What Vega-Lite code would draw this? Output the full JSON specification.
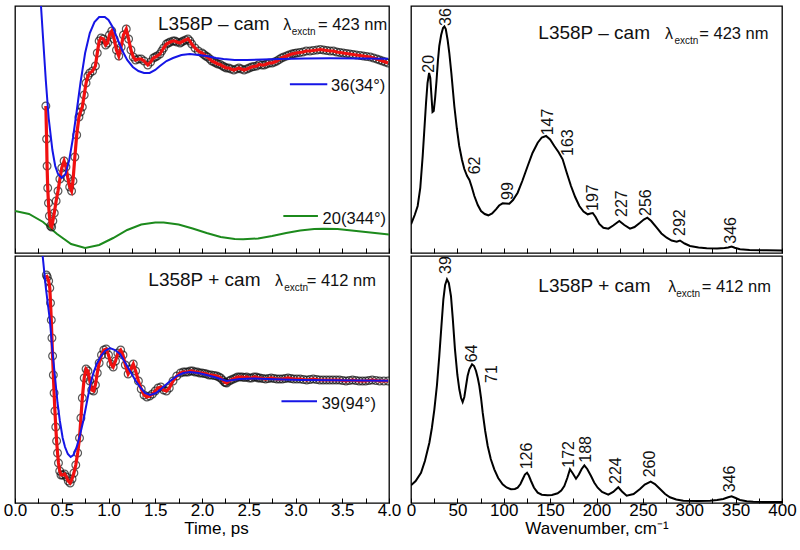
{
"$schema":"https://vega.github.io/schema/vega-lite/v6.json",
"padding":{"left":2,"top":5,"right":5,"bottom":5},
"background":"white",
"config":{"view":{"stroke":"#000","strokeWidth":1.3},"font":"Liberation Sans",
"axis":{"domain":false,"grid":false,"tickColor":"#000","tickSize":-5,"tickWidth":1,"labelFont":"Liberation Sans","labelFontSize":17,"labelColor":"#000","labelFlush":false,"labelOverlap":false,"titleFont":"Liberation Sans","titleFontSize":17,"titleFontWeight":"normal","titleColor":"#000"}},
"resolve":{"scale":{"x":"independent","y":"independent"}},
"spacing":0,
"vconcat":[
{"hconcat":[
{"width":374,"height":247,
"encoding":{"x":{"field":"t","type":"quantitative","scale":{"domain":[0,4],"nice":false,"zero":false},"axis":{"values":[0,0.25,0.5,0.75,1,1.25,1.5,1.75,2,2.25,2.5,2.75,3,3.25,3.5,3.75,4],"labels":false,"title":null}},
"y":{"field":"y","type":"quantitative","scale":{"domain":[0,247],"nice":false,"zero":false},"axis":null}},
"layer":[
{"data":{"name":"ul_green"},"mark":{"type":"line","color":"#1c8a1c","strokeWidth":2,"clip":true}},
{"data":{"name":"ul_sig"},"mark":{"type":"point","shape":"circle","filled":false,"color":"#111","strokeWidth":1.2,"size":60,"clip":true}},
{"data":{"name":"ul_sig"},"mark":{"type":"line","color":"#f01010","strokeWidth":3.2,"clip":true}},
{"data":{"name":"ul_blue"},"mark":{"type":"line","color":"#1515e6","strokeWidth":2,"clip":true}},
{"data":{"name":"ul_leg"},"transform":[{"filter":"datum.s=='b'"}],"mark":{"type":"rule","color":"#1515e6","strokeWidth":2},"encoding":{"x2":{"field":"t2"}}},
{"data":{"name":"ul_leg"},"transform":[{"filter":"datum.s=='g'"}],"mark":{"type":"rule","color":"#1c8a1c","strokeWidth":2},"encoding":{"x2":{"field":"t2"}}},
{"data":{"name":"ul_txt"},"transform":[{"filter":"datum.k=='title'"}],"mark":{"type":"text","align":"left","baseline":"alphabetic","fontSize":19,"color":"#111"},"encoding":{"text":{"field":"s"}}},
{"data":{"name":"ul_txt"},"transform":[{"filter":"datum.k=='lam'"}],"mark":{"type":"text","align":"left","baseline":"alphabetic","fontSize":16,"color":"#111"},"encoding":{"text":{"field":"s"}}},
{"data":{"name":"ul_txt"},"transform":[{"filter":"datum.k=='sub'"}],"mark":{"type":"text","align":"left","baseline":"alphabetic","fontSize":10,"color":"#111"},"encoding":{"text":{"field":"s"}}},
{"data":{"name":"ul_txt"},"transform":[{"filter":"datum.k=='eq' || datum.k=='leg'"}],"mark":{"type":"text","align":"left","baseline":"alphabetic","fontSize":16.5,"color":"#111"},"encoding":{"text":{"field":"s"}}}
]},
{"width":371,"height":247,
"encoding":{"x":{"field":"w","type":"quantitative","scale":{"domain":[0,400],"nice":false,"zero":false},"axis":{"values":[0,25,50,75,100,125,150,175,200,225,250,275,300,325,350,375,400],"labels":false,"title":null}},
"y":{"field":"y","type":"quantitative","scale":{"domain":[0,247],"nice":false,"zero":false},"axis":null}},
"layer":[
{"data":{"name":"ur_spec"},"mark":{"type":"line","color":"#000","strokeWidth":2,"clip":true}},
{"data":{"name":"ur_pk"},"mark":{"type":"text","angle":270,"align":"left","baseline":"middle","fontSize":16,"color":"#111"},"encoding":{"text":{"field":"s"}}},
{"data":{"name":"ur_txt"},"transform":[{"filter":"datum.k=='title'"}],"mark":{"type":"text","align":"left","baseline":"alphabetic","fontSize":19,"color":"#111"},"encoding":{"text":{"field":"s"}}},
{"data":{"name":"ur_txt"},"transform":[{"filter":"datum.k=='lam'"}],"mark":{"type":"text","align":"left","baseline":"alphabetic","fontSize":16,"color":"#111"},"encoding":{"text":{"field":"s"}}},
{"data":{"name":"ur_txt"},"transform":[{"filter":"datum.k=='sub'"}],"mark":{"type":"text","align":"left","baseline":"alphabetic","fontSize":10,"color":"#111"},"encoding":{"text":{"field":"s"}}},
{"data":{"name":"ur_txt"},"transform":[{"filter":"datum.k=='eq'"}],"mark":{"type":"text","align":"left","baseline":"alphabetic","fontSize":16.5,"color":"#111"},"encoding":{"text":{"field":"s"}}}
]}
],"spacing":22,"bounds":"flush","resolve":{"scale":{"x":"independent","y":"independent"}}},
{"hconcat":[
{"width":374,"height":247,
"encoding":{"x":{"field":"t","type":"quantitative","scale":{"domain":[0,4],"nice":false,"zero":false},"axis":{"values":[0,0.25,0.5,0.75,1,1.25,1.5,1.75,2,2.25,2.5,2.75,3,3.25,3.5,3.75,4],"labelExpr":"round(datum.value*4) % 2 == 0 ? format(datum.value,'.1f') : ''","labelPadding":4,"title":"Time, ps","titleX":201,"titlePadding":2}},
"y":{"field":"y","type":"quantitative","scale":{"domain":[0,247],"nice":false,"zero":false},"axis":null}},
"layer":[
{"data":{"name":"ll_sig"},"mark":{"type":"point","shape":"circle","filled":false,"color":"#111","strokeWidth":1.2,"size":60,"clip":true}},
{"data":{"name":"ll_sig"},"mark":{"type":"line","color":"#f01010","strokeWidth":3.2,"clip":true}},
{"data":{"name":"ll_blue"},"mark":{"type":"line","color":"#1515e6","strokeWidth":2,"clip":true}},
{"data":{"name":"ll_leg"},"mark":{"type":"rule","color":"#1515e6","strokeWidth":2},"encoding":{"x2":{"field":"t2"}}},
{"data":{"name":"ll_txt"},"transform":[{"filter":"datum.k=='title'"}],"mark":{"type":"text","align":"left","baseline":"alphabetic","fontSize":19,"color":"#111"},"encoding":{"text":{"field":"s"}}},
{"data":{"name":"ll_txt"},"transform":[{"filter":"datum.k=='lam'"}],"mark":{"type":"text","align":"left","baseline":"alphabetic","fontSize":16,"color":"#111"},"encoding":{"text":{"field":"s"}}},
{"data":{"name":"ll_txt"},"transform":[{"filter":"datum.k=='sub'"}],"mark":{"type":"text","align":"left","baseline":"alphabetic","fontSize":10,"color":"#111"},"encoding":{"text":{"field":"s"}}},
{"data":{"name":"ll_txt"},"transform":[{"filter":"datum.k=='eq' || datum.k=='leg'"}],"mark":{"type":"text","align":"left","baseline":"alphabetic","fontSize":16.5,"color":"#111"},"encoding":{"text":{"field":"s"}}}
]},
{"width":371,"height":247,
"encoding":{"x":{"field":"w","type":"quantitative","scale":{"domain":[0,400],"nice":false,"zero":false},"axis":{"values":[0,25,50,75,100,125,150,175,200,225,250,275,300,325,350,375,400],"labelExpr":"datum.value % 50 == 0 ? format(datum.value,'d') : ''","labelPadding":4,"title":"Wavenumber, cm⁻¹","titlePadding":2}},
"y":{"field":"y","type":"quantitative","scale":{"domain":[0,247],"nice":false,"zero":false},"axis":null}},
"layer":[
{"data":{"name":"lr_spec"},"mark":{"type":"line","color":"#000","strokeWidth":2,"clip":true}},
{"data":{"name":"lr_pk"},"mark":{"type":"text","angle":270,"align":"left","baseline":"middle","fontSize":16,"color":"#111"},"encoding":{"text":{"field":"s"}}},
{"data":{"name":"lr_txt"},"transform":[{"filter":"datum.k=='title'"}],"mark":{"type":"text","align":"left","baseline":"alphabetic","fontSize":19,"color":"#111"},"encoding":{"text":{"field":"s"}}},
{"data":{"name":"lr_txt"},"transform":[{"filter":"datum.k=='lam'"}],"mark":{"type":"text","align":"left","baseline":"alphabetic","fontSize":16,"color":"#111"},"encoding":{"text":{"field":"s"}}},
{"data":{"name":"lr_txt"},"transform":[{"filter":"datum.k=='sub'"}],"mark":{"type":"text","align":"left","baseline":"alphabetic","fontSize":10,"color":"#111"},"encoding":{"text":{"field":"s"}}},
{"data":{"name":"lr_txt"},"transform":[{"filter":"datum.k=='eq'"}],"mark":{"type":"text","align":"left","baseline":"alphabetic","fontSize":16.5,"color":"#111"},"encoding":{"text":{"field":"s"}}}
]}
],"spacing":22,"bounds":"flush","resolve":{"scale":{"x":"independent","y":"independent"}}}
],
"datasets":{
"ul_sig":[{"t":0.33,"y":147},{"t":0.338,"y":114},{"t":0.343,"y":87},{"t":0.35,"y":65},{"t":0.358,"y":50},{"t":0.368,"y":37},{"t":0.38,"y":27},{"t":0.392,"y":26},{"t":0.405,"y":32},{"t":0.42,"y":40},{"t":0.44,"y":52},{"t":0.46,"y":62},{"t":0.48,"y":74},{"t":0.5,"y":85},{"t":0.525,"y":92},{"t":0.545,"y":86},{"t":0.565,"y":75},{"t":0.585,"y":66},{"t":0.605,"y":62},{"t":0.62,"y":72},{"t":0.64,"y":96},{"t":0.66,"y":118},{"t":0.684,"y":136},{"t":0.7,"y":141},{"t":0.72,"y":146},{"t":0.74,"y":158},{"t":0.76,"y":170},{"t":0.78,"y":177},{"t":0.8,"y":180},{"t":0.83,"y":182},{"t":0.86,"y":187},{"t":0.88,"y":200},{"t":0.9,"y":212},{"t":0.92,"y":215},{"t":0.945,"y":214},{"t":0.97,"y":208},{"t":0.99,"y":210},{"t":1.01,"y":218},{"t":1.035,"y":222},{"t":1.06,"y":214},{"t":1.085,"y":203},{"t":1.11,"y":197},{"t":1.135,"y":206},{"t":1.16,"y":218},{"t":1.19,"y":224},{"t":1.215,"y":214},{"t":1.24,"y":203},{"t":1.265,"y":196},{"t":1.29,"y":193},{"t":1.32,"y":194},{"t":1.35,"y":194},{"t":1.38,"y":192},{"t":1.42,"y":188},{"t":1.45,"y":191},{"t":1.48,"y":195},{"t":1.52,"y":197},{"t":1.55,"y":199},{"t":1.59,"y":205},{"t":1.62,"y":209},{"t":1.66,"y":211},{"t":1.69,"y":212},{"t":1.73,"y":211},{"t":1.765,"y":210},{"t":1.8,"y":212},{"t":1.85,"y":214},{"t":1.89,"y":209},{"t":1.925,"y":205},{"t":1.96,"y":202},{"t":2.0,"y":200},{"t":2.04,"y":197},{"t":2.085,"y":194},{"t":2.13,"y":191},{"t":2.17,"y":189},{"t":2.22,"y":187},{"t":2.26,"y":185},{"t":2.31,"y":184},{"t":2.37,"y":184},{"t":2.42,"y":184},{"t":2.48,"y":184},{"t":2.53,"y":186},{"t":2.585,"y":187},{"t":2.64,"y":188},{"t":2.69,"y":189},{"t":2.75,"y":190},{"t":2.8,"y":192},{"t":2.85,"y":195},{"t":2.905,"y":197},{"t":2.96,"y":199},{"t":3.01,"y":200},{"t":3.08,"y":201},{"t":3.155,"y":202},{"t":3.23,"y":203},{"t":3.3,"y":203},{"t":3.37,"y":202},{"t":3.44,"y":201},{"t":3.51,"y":200},{"t":3.58,"y":199},{"t":3.65,"y":198},{"t":3.725,"y":197},{"t":3.8,"y":196},{"t":3.87,"y":194},{"t":3.93,"y":192},{"t":3.99,"y":190},{"t":2.02,"y":198.5},{"t":2.06,"y":196},{"t":2.105,"y":192},{"t":2.15,"y":190},{"t":2.195,"y":188.5},{"t":2.24,"y":186},{"t":2.285,"y":185},{"t":2.34,"y":183},{"t":2.395,"y":185},{"t":2.45,"y":183},{"t":2.505,"y":185},{"t":2.555,"y":186.5},{"t":2.61,"y":188.5},{"t":2.665,"y":188},{"t":2.72,"y":190},{"t":2.775,"y":191},{"t":2.825,"y":193.5},{"t":2.875,"y":196},{"t":2.93,"y":198},{"t":2.985,"y":199.5},{"t":3.045,"y":200.5},{"t":3.115,"y":202},{"t":3.19,"y":202.5},{"t":3.265,"y":203.5},{"t":3.335,"y":202.5},{"t":3.405,"y":202},{"t":3.475,"y":200.5},{"t":3.545,"y":199.5},{"t":3.615,"y":198.5},{"t":3.69,"y":197.5},{"t":3.76,"y":196.5},{"t":3.835,"y":195},{"t":3.9,"y":193},{"t":3.96,"y":191},{"t":1.5,"y":196},{"t":1.57,"y":202},{"t":1.64,"y":210},{"t":1.71,"y":212},{"t":1.78,"y":211},{"t":1.825,"y":213},{"t":1.87,"y":212}],
"ul_blue":[{"t":0.25,"y":300},{"t":0.278,"y":247},{"t":0.3,"y":215},{"t":0.33,"y":172},{"t":0.36,"y":135},{"t":0.4,"y":103},{"t":0.43,"y":87},{"t":0.46,"y":79},{"t":0.5,"y":75},{"t":0.54,"y":79},{"t":0.58,"y":93},{"t":0.62,"y":115},{"t":0.66,"y":142},{"t":0.7,"y":170},{"t":0.75,"y":200},{"t":0.8,"y":220},{"t":0.85,"y":231},{"t":0.9,"y":236},{"t":0.96,"y":236},{"t":1.0,"y":233},{"t":1.05,"y":225},{"t":1.1,"y":213},{"t":1.15,"y":202},{"t":1.2,"y":193},{"t":1.26,"y":186},{"t":1.32,"y":182},{"t":1.38,"y":180},{"t":1.44,"y":180},{"t":1.5,"y":183},{"t":1.55,"y":187},{"t":1.62,"y":192},{"t":1.69,"y":195},{"t":1.78,"y":198},{"t":1.87,"y":199},{"t":1.96,"y":198},{"t":2.05,"y":197},{"t":2.15,"y":195},{"t":2.23,"y":194},{"t":2.35,"y":193},{"t":2.48,"y":193},{"t":2.65,"y":193.5},{"t":2.83,"y":194},{"t":3.1,"y":194.5},{"t":3.37,"y":194.7},{"t":3.7,"y":194.5},{"t":3.99,"y":194.3}],
"ul_green":[{"t":0,"y":42},{"t":0.15,"y":39},{"t":0.3,"y":31},{"t":0.45,"y":19},{"t":0.6,"y":9},{"t":0.75,"y":5},{"t":0.9,"y":8},{"t":1.05,"y":15},{"t":1.2,"y":23},{"t":1.35,"y":28.5},{"t":1.5,"y":30.5},{"t":1.59,"y":30.5},{"t":1.75,"y":28.5},{"t":1.9,"y":24.5},{"t":2.05,"y":20},{"t":2.2,"y":16},{"t":2.35,"y":14},{"t":2.44,"y":13.7},{"t":2.6,"y":14.5},{"t":2.75,"y":17},{"t":2.9,"y":20},{"t":3.05,"y":22.5},{"t":3.2,"y":24},{"t":3.3,"y":24.3},{"t":3.45,"y":24},{"t":3.6,"y":22.5},{"t":3.75,"y":21},{"t":3.9,"y":19.5},{"t":4.0,"y":18.5}],
"ul_leg":[{"t":2.94,"t2":3.34,"y":168.7,"s":"b"},{"t":2.87,"t2":3.24,"y":37,"s":"g"}],
"ul_txt":[{"t":1.53,"y":222.7,"k":"title","s":"L358P – cam"},{"t":2.87,"y":222.7,"k":"lam","s":"λ"},{"t":2.96,"y":218.5,"k":"sub","s":"exctn"},{"t":3.24,"y":222.7,"k":"eq","s":"= 423 nm"},{"t":3.38,"y":162,"k":"leg","s":"36(34°)"},{"t":3.29,"y":28.7,"k":"leg","s":"20(344°)"}],
"ll_sig":[{"t":0.335,"y":228},{"t":0.345,"y":226},{"t":0.36,"y":222},{"t":0.372,"y":215},{"t":0.38,"y":200},{"t":0.388,"y":183},{"t":0.395,"y":165},{"t":0.402,"y":147},{"t":0.41,"y":128},{"t":0.418,"y":110},{"t":0.427,"y":92},{"t":0.436,"y":76},{"t":0.445,"y":62},{"t":0.455,"y":50},{"t":0.465,"y":40},{"t":0.478,"y":32},{"t":0.492,"y":28},{"t":0.51,"y":28},{"t":0.53,"y":29},{"t":0.55,"y":26},{"t":0.57,"y":22},{"t":0.59,"y":20},{"t":0.61,"y":24},{"t":0.63,"y":30},{"t":0.65,"y":38},{"t":0.67,"y":50},{"t":0.69,"y":65},{"t":0.705,"y":85},{"t":0.72,"y":105},{"t":0.74,"y":125},{"t":0.76,"y":134},{"t":0.78,"y":132},{"t":0.8,"y":122},{"t":0.82,"y":113},{"t":0.84,"y":112},{"t":0.86,"y":118},{"t":0.88,"y":130},{"t":0.9,"y":140},{"t":0.925,"y":148},{"t":0.95,"y":153},{"t":0.975,"y":154},{"t":1.0,"y":148},{"t":1.025,"y":139},{"t":1.05,"y":136},{"t":1.075,"y":142},{"t":1.1,"y":150},{"t":1.13,"y":153},{"t":1.155,"y":148},{"t":1.18,"y":138},{"t":1.21,"y":129},{"t":1.24,"y":134},{"t":1.265,"y":139},{"t":1.29,"y":132},{"t":1.32,"y":122},{"t":1.35,"y":114},{"t":1.38,"y":108},{"t":1.41,"y":106},{"t":1.44,"y":107},{"t":1.47,"y":109},{"t":1.5,"y":112},{"t":1.53,"y":115},{"t":1.56,"y":116},{"t":1.59,"y":113},{"t":1.62,"y":112},{"t":1.65,"y":115},{"t":1.69,"y":122},{"t":1.73,"y":127},{"t":1.77,"y":130},{"t":1.8,"y":131},{"t":1.85,"y":131},{"t":1.9,"y":132},{"t":1.95,"y":131},{"t":2.0,"y":130},{"t":2.05,"y":129},{"t":2.1,"y":128},{"t":2.157,"y":127},{"t":2.2,"y":125},{"t":2.24,"y":121},{"t":2.264,"y":120},{"t":2.29,"y":122},{"t":2.335,"y":124},{"t":2.38,"y":126},{"t":2.43,"y":126},{"t":2.478,"y":126},{"t":2.53,"y":125},{"t":2.58,"y":126},{"t":2.62,"y":125},{"t":2.68,"y":124},{"t":2.74,"y":125},{"t":2.8,"y":124},{"t":2.86,"y":124},{"t":2.92,"y":125},{"t":2.98,"y":124},{"t":3.05,"y":124},{"t":3.12,"y":123},{"t":3.19,"y":124},{"t":3.26,"y":123},{"t":3.33,"y":123},{"t":3.4,"y":123},{"t":3.47,"y":123},{"t":3.54,"y":122},{"t":3.61,"y":123},{"t":3.68,"y":122},{"t":3.75,"y":122},{"t":3.82,"y":123},{"t":3.9,"y":122},{"t":3.99,"y":122},{"t":1.825,"y":131},{"t":1.875,"y":132},{"t":1.925,"y":131},{"t":1.975,"y":130},{"t":2.025,"y":129.5},{"t":2.075,"y":128},{"t":2.13,"y":127.5},{"t":2.18,"y":126},{"t":2.22,"y":123},{"t":2.25,"y":120.5},{"t":2.31,"y":123},{"t":2.36,"y":125},{"t":2.405,"y":126},{"t":2.455,"y":125.5},{"t":2.505,"y":125},{"t":2.555,"y":126},{"t":2.6,"y":125},{"t":2.65,"y":124.5},{"t":2.71,"y":124.5},{"t":2.77,"y":124.5},{"t":2.83,"y":124},{"t":2.89,"y":124.5},{"t":2.95,"y":124.5},{"t":3.015,"y":124},{"t":3.085,"y":123.5},{"t":3.155,"y":123.5},{"t":3.225,"y":123.5},{"t":3.295,"y":123},{"t":3.365,"y":123},{"t":3.435,"y":123},{"t":3.505,"y":122.5},{"t":3.575,"y":122.5},{"t":3.645,"y":122.5},{"t":3.715,"y":122},{"t":3.785,"y":122.5},{"t":3.86,"y":122.5},{"t":3.945,"y":122}],
"ll_blue":[{"t":0.27,"y":300},{"t":0.296,"y":247},{"t":0.33,"y":215},{"t":0.374,"y":182},{"t":0.4,"y":152},{"t":0.428,"y":126},{"t":0.455,"y":100},{"t":0.48,"y":82},{"t":0.51,"y":65},{"t":0.535,"y":56},{"t":0.565,"y":49},{"t":0.595,"y":46},{"t":0.625,"y":48},{"t":0.66,"y":56},{"t":0.695,"y":68},{"t":0.73,"y":82},{"t":0.765,"y":99},{"t":0.8,"y":116},{"t":0.835,"y":129},{"t":0.874,"y":139},{"t":0.92,"y":147},{"t":0.963,"y":152},{"t":1.016,"y":155},{"t":1.07,"y":153},{"t":1.123,"y":149},{"t":1.175,"y":141},{"t":1.23,"y":132},{"t":1.285,"y":123},{"t":1.337,"y":116},{"t":1.39,"y":110},{"t":1.444,"y":108},{"t":1.51,"y":110},{"t":1.586,"y":116},{"t":1.66,"y":122},{"t":1.73,"y":127},{"t":1.8,"y":130},{"t":1.87,"y":131},{"t":1.96,"y":130},{"t":2.05,"y":128},{"t":2.15,"y":125.5},{"t":2.264,"y":122},{"t":2.33,"y":123},{"t":2.406,"y":124},{"t":2.55,"y":124.5},{"t":2.69,"y":124},{"t":2.87,"y":123.5},{"t":3.05,"y":123},{"t":3.4,"y":122.7},{"t":3.99,"y":122.3}],
"ll_leg":[{"t":2.85,"t2":3.23,"y":101.7}],
"ll_txt":[{"t":1.426,"y":217.3,"k":"title","s":"L358P + cam"},{"t":2.78,"y":217.3,"k":"lam","s":"λ"},{"t":2.88,"y":212.5,"k":"sub","s":"exctn"},{"t":3.12,"y":217.3,"k":"eq","s":"= 412 nm"},{"t":3.28,"y":94,"k":"leg","s":"39(94°)"}],
"ur_spec":[{"w":0,"y":28.7},{"w":4,"y":38},{"w":7.2,"y":47},{"w":10,"y":65},{"w":12.6,"y":97},{"w":14.5,"y":125},{"w":16.2,"y":150},{"w":17.8,"y":170},{"w":19.5,"y":180},{"w":20.8,"y":175},{"w":22,"y":158},{"w":23.2,"y":141},{"w":24.5,"y":142},{"w":26,"y":155},{"w":27.5,"y":172},{"w":29,"y":192},{"w":30.5,"y":207},{"w":32.5,"y":218},{"w":34.5,"y":225},{"w":36,"y":226.5},{"w":37.5,"y":224},{"w":39.5,"y":213},{"w":41.3,"y":200},{"w":43.5,"y":180},{"w":46.7,"y":147},{"w":49.5,"y":124},{"w":52,"y":107},{"w":55,"y":93},{"w":57.5,"y":84},{"w":60.5,"y":77},{"w":63,"y":73},{"w":65.5,"y":66},{"w":68.3,"y":57},{"w":72,"y":48},{"w":75.5,"y":42},{"w":79.5,"y":39},{"w":83.4,"y":37.7},{"w":87.5,"y":39.5},{"w":91.6,"y":43.7},{"w":95,"y":47.5},{"w":98.8,"y":49.7},{"w":102,"y":49.5},{"w":106,"y":49.3},{"w":110,"y":53},{"w":115,"y":60.3},{"w":120,"y":72},{"w":125.8,"y":87},{"w":131,"y":100},{"w":136.6,"y":110.3},{"w":141,"y":115.5},{"w":145.6,"y":117},{"w":150,"y":113.5},{"w":154.5,"y":107},{"w":159,"y":101},{"w":163.5,"y":93.7},{"w":168,"y":80},{"w":172.5,"y":67},{"w":177,"y":56},{"w":181.5,"y":47},{"w":186,"y":41.5},{"w":190.5,"y":38.7},{"w":193.5,"y":39.5},{"w":196,"y":40},{"w":199,"y":36},{"w":203,"y":29},{"w":207.4,"y":25.3},{"w":212.8,"y":24.3},{"w":218,"y":27.5},{"w":224.6,"y":32},{"w":230,"y":28},{"w":236.1,"y":24.3},{"w":241,"y":26},{"w":246.9,"y":30.3},{"w":251,"y":33.5},{"w":254.8,"y":35.3},{"w":259,"y":32},{"w":264.9,"y":25.3},{"w":270,"y":19.5},{"w":275.7,"y":15.3},{"w":281,"y":12.5},{"w":286.5,"y":11.3},{"w":290,"y":12.5},{"w":295,"y":9.5},{"w":300.8,"y":7},{"w":310,"y":5.5},{"w":318.8,"y":4.7},{"w":330,"y":4.5},{"w":338,"y":5},{"w":342,"y":5.5},{"w":345.7,"y":6.5},{"w":349,"y":5.3},{"w":354.7,"y":3.7},{"w":365,"y":3},{"w":383.5,"y":2.7},{"w":400,"y":2.6}],
"ur_pk":[{"w":19.1,"y":180.3,"s":"20"},{"w":37.4,"y":227,"s":"36"},{"w":68.7,"y":78.7,"s":"62"},{"w":105,"y":53,"s":"99"},{"w":148.1,"y":117.7,"s":"147"},{"w":169.7,"y":97,"s":"163"},{"w":196.1,"y":42,"s":"197"},{"w":227.2,"y":36,"s":"227"},{"w":253.7,"y":37,"s":"256"},{"w":290,"y":17,"s":"292"},{"w":345,"y":9.3,"s":"346"}],
"ur_txt":[{"w":137.3,"y":214,"k":"title","s":"L358P – cam"},{"w":273.9,"y":214,"k":"lam","s":"λ"},{"w":284,"y":209.3,"k":"sub","s":"exctn"},{"w":310.8,"y":214,"k":"eq","s":"= 423 nm"}],
"lr_spec":[{"w":0,"y":17.7},{"w":5,"y":22},{"w":10.8,"y":30.3},{"w":15,"y":42},{"w":19.8,"y":60.3},{"w":22.5,"y":75},{"w":25.2,"y":93.7},{"w":28,"y":118},{"w":30.5,"y":147},{"w":32.8,"y":177},{"w":34.9,"y":203.7},{"w":36.8,"y":218},{"w":38.8,"y":223.7},{"w":40.8,"y":220},{"w":43.1,"y":207},{"w":45,"y":185},{"w":47.4,"y":153.7},{"w":50,"y":128},{"w":52.1,"y":113.7},{"w":54,"y":105},{"w":55.7,"y":101},{"w":57.5,"y":106},{"w":59.3,"y":117},{"w":61,"y":127},{"w":62.9,"y":133.7},{"w":65.8,"y":138.7},{"w":68,"y":137},{"w":70.1,"y":132},{"w":72,"y":125},{"w":73.7,"y":117},{"w":75.5,"y":105},{"w":77.3,"y":90.3},{"w":80,"y":72},{"w":82.7,"y":57},{"w":86,"y":44},{"w":89.8,"y":33.7},{"w":94,"y":25},{"w":98.8,"y":18.7},{"w":103,"y":15.5},{"w":107.8,"y":13.7},{"w":112,"y":14},{"w":115,"y":15.3},{"w":118,"y":19},{"w":120.4,"y":23.7},{"w":122.8,"y":28.5},{"w":125.1,"y":30.3},{"w":127,"y":27.5},{"w":129.4,"y":22},{"w":132.5,"y":15.5},{"w":136.6,"y":10.3},{"w":141,"y":8.3},{"w":147.3,"y":7.7},{"w":152,"y":8},{"w":158.1,"y":9.7},{"w":162,"y":12.5},{"w":165.3,"y":17},{"w":168.5,"y":25},{"w":171.4,"y":33.7},{"w":174.5,"y":29.5},{"w":177.9,"y":24.3},{"w":181,"y":28.5},{"w":184,"y":34},{"w":186.9,"y":37.7},{"w":190,"y":34},{"w":194.1,"y":27},{"w":197.5,"y":20.5},{"w":201.3,"y":15.3},{"w":206,"y":11},{"w":212.7,"y":8.3},{"w":218,"y":11},{"w":223.5,"y":15.7},{"w":227.5,"y":11.5},{"w":232.5,"y":7.3},{"w":240,"y":9},{"w":246.9,"y":14},{"w":252,"y":18.5},{"w":258.4,"y":21.3},{"w":263,"y":19},{"w":268.5,"y":14},{"w":274,"y":9},{"w":279.2,"y":5.7},{"w":286,"y":3.5},{"w":293.6,"y":2.3},{"w":310,"y":2},{"w":322.4,"y":2.3},{"w":330,"y":3},{"w":336.7,"y":4},{"w":342,"y":5.8},{"w":345.7,"y":6.7},{"w":350,"y":5},{"w":354.7,"y":3},{"w":362,"y":1.8},{"w":369,"y":1.3},{"w":385,"y":1},{"w":400,"y":1}],
"lr_pk":[{"w":37.7,"y":229,"s":"39"},{"w":65.4,"y":140.7,"s":"64"},{"w":87,"y":120,"s":"71"},{"w":125.4,"y":33.7,"s":"126"},{"w":170.2,"y":35.3,"s":"172"},{"w":189,"y":40.3,"s":"188"},{"w":221.3,"y":19,"s":"224"},{"w":257.3,"y":25.7,"s":"260"},{"w":344.3,"y":10.7,"s":"346"}],
"lr_txt":[{"w":137.3,"y":210.7,"k":"title","s":"L358P + cam"},{"w":277.4,"y":210.7,"k":"lam","s":"λ"},{"w":286,"y":206.5,"k":"sub","s":"exctn"},{"w":313.4,"y":210.7,"k":"eq","s":"= 412 nm"}]
}
}
